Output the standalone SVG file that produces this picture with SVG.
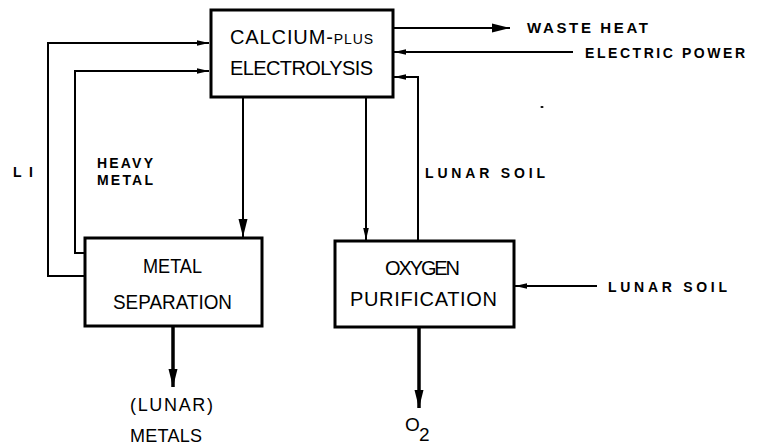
<svg xmlns="http://www.w3.org/2000/svg" width="758" height="448" viewBox="0 0 758 448">
<defs>
<style>
.box{fill:#fff;stroke:#000;stroke-width:3}
.ln{fill:none;stroke:#000;stroke-width:2}
.thick{fill:none;stroke:#000;stroke-width:3.5}
.bt{font-family:"Liberation Sans",Arial,sans-serif;font-size:20px;fill:#000}
.lb{font-family:"Liberation Sans",Arial,sans-serif;font-size:14px;font-weight:bold;fill:#000}
.ot{font-family:"Liberation Sans",Arial,sans-serif;font-size:18px;fill:#000}
</style>
<marker id="as" viewBox="0 0 12 8" refX="12" refY="4" markerWidth="12" markerHeight="8" markerUnits="userSpaceOnUse" orient="auto"><path d="M0,1.2 L12,4 L0,6.8 z" fill="#000"/></marker>
<marker id="ab" viewBox="0 0 18 10" refX="18" refY="5" markerWidth="18" markerHeight="10" markerUnits="userSpaceOnUse" orient="auto"><path d="M0,0.5 L18,5 L0,9.5 z" fill="#000"/></marker>
</defs>
<rect width="758" height="448" fill="#fff"/>
<g id="connectors">
<path class="ln" d="M85,276 H48 V43 H209" marker-end="url(#as)"/>
<path class="ln" d="M85,253 H75 V71 H209" marker-end="url(#as)"/>
<path class="ln" d="M243,97 V237" marker-end="url(#ab)"/>
<path class="ln" d="M366,97 V240" marker-end="url(#as)"/>
<path class="ln" d="M393,28 H510" marker-end="url(#ab)"/>
<path class="ln" d="M573,52 H394" marker-end="url(#as)"/>
<path class="ln" d="M418,241 V77 H394" marker-end="url(#as)"/>
<path class="ln" d="M597,286 H515" marker-end="url(#as)"/>
<path class="thick" d="M173,326 V387" marker-end="url(#ab)"/>
<path class="thick" d="M419,327 V408" marker-end="url(#ab)"/>
</g>
<g id="electrolysis">
<rect class="box" x="211" y="10" width="182" height="87"/>
<text class="bt" x="230" y="44" textLength="143" lengthAdjust="spacing">CALCIUM-<tspan font-size="14">PLUS</tspan></text>
<text class="bt" x="230" y="75" textLength="143" lengthAdjust="spacing">ELECTROLYSIS</text>
</g>
<g id="metal-separation">
<rect class="box" x="85" y="238" width="177" height="88"/>
<text class="bt" x="143" y="273" textLength="59" lengthAdjust="spacingAndGlyphs">METAL</text>
<text class="bt" x="113" y="309" textLength="119" lengthAdjust="spacingAndGlyphs">SEPARATION</text>
</g>
<g id="oxygen-purification">
<rect class="box" x="335" y="241" width="179" height="86"/>
<text class="bt" x="385" y="275" textLength="75" lengthAdjust="spacing">OXYGEN</text>
<text class="bt" x="350" y="306" textLength="147" lengthAdjust="spacing">PURIFICATION</text>
</g>
<g id="labels">
<text class="lb" x="527" y="33" style="font-size:15px" textLength="121" lengthAdjust="spacing">WASTE HEAT</text>
<text class="lb" x="585" y="58" textLength="160" lengthAdjust="spacing">ELECTRIC POWER</text>
<text class="lb" x="425" y="178" textLength="120" lengthAdjust="spacing">LUNAR SOIL</text>
<text class="lb" x="608" y="292" textLength="119" lengthAdjust="spacing">LUNAR SOIL</text>
<text class="lb" x="97" y="168" textLength="56" lengthAdjust="spacing">HEAVY</text>
<text class="lb" x="97" y="185" textLength="56" lengthAdjust="spacing">METAL</text>
<text class="lb" x="13" y="177" textLength="20" lengthAdjust="spacing">LI</text>
<text class="ot" x="130" y="411" textLength="83" lengthAdjust="spacing">(LUNAR)</text>
<text class="ot" x="130" y="442" textLength="72" lengthAdjust="spacing">METALS</text>
<text class="ot" x="405" y="431" style="font-size:19px">O</text>
<text class="ot" x="419" y="441" style="font-size:19px">2</text>
</g>
<ellipse cx="542" cy="107" rx="1.6" ry="1" fill="#000"/>
</svg>
